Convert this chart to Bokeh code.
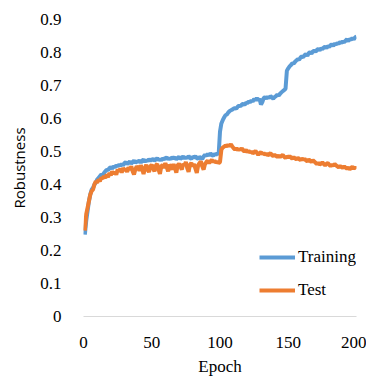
from bokeh.plotting import figure
from bokeh.embed import file_html
from bokeh.resources import INLINE
from bokeh.models import FixedTicker, NumeralTickFormatter, Legend, LegendItem, Range1d

epochs = list(range(1, 201))

training = [
    0.248, 0.29, 0.32, 0.35, 0.37, 0.385, 0.39, 0.40, 0.405, 0.415,
    0.42, 0.425, 0.43, 0.428, 0.435, 0.44, 0.445, 0.443, 0.45, 0.452,
    0.448, 0.455, 0.452, 0.458, 0.455, 0.46, 0.457, 0.462, 0.458, 0.465,
    0.468, 0.462, 0.466, 0.47, 0.463, 0.468, 0.472, 0.466, 0.47, 0.468,
    0.474, 0.466, 0.472, 0.476, 0.469, 0.474, 0.471, 0.477, 0.472, 0.475,
    0.478, 0.472, 0.476, 0.48, 0.474, 0.477, 0.473, 0.479, 0.476, 0.48,
    0.482, 0.476, 0.48, 0.477, 0.483, 0.479, 0.482, 0.476, 0.48, 0.484,
    0.478, 0.481, 0.485, 0.479, 0.483, 0.48, 0.486, 0.481, 0.478, 0.484,
    0.482, 0.486, 0.48, 0.478, 0.483, 0.481, 0.477, 0.485, 0.49, 0.487,
    0.492, 0.488, 0.494, 0.49, 0.487, 0.493, 0.489, 0.495, 0.49, 0.56,
    0.585, 0.595, 0.603, 0.61, 0.612, 0.618, 0.622, 0.625, 0.627, 0.63,
    0.632, 0.63, 0.636, 0.639, 0.637, 0.642, 0.645, 0.641, 0.648, 0.646,
    0.652, 0.649, 0.655, 0.651, 0.659, 0.656, 0.662, 0.655, 0.66, 0.642,
    0.65, 0.662, 0.665, 0.66, 0.666, 0.662, 0.668, 0.664, 0.66, 0.665,
    0.668, 0.672, 0.669, 0.675, 0.679, 0.683, 0.686, 0.69, 0.745, 0.752,
    0.758, 0.762, 0.768, 0.766, 0.772, 0.776, 0.78, 0.778, 0.785, 0.788,
    0.786, 0.792, 0.795, 0.79, 0.798, 0.801, 0.797, 0.803, 0.806, 0.802,
    0.808, 0.811, 0.806, 0.813, 0.81, 0.815, 0.818, 0.813, 0.82, 0.817,
    0.822, 0.825, 0.82, 0.827, 0.824, 0.829, 0.826, 0.832, 0.829, 0.834,
    0.831, 0.836, 0.84, 0.834, 0.841, 0.838, 0.844, 0.84, 0.846, 0.848,
]

test = [
    0.26, 0.31, 0.33, 0.35, 0.37, 0.38, 0.385, 0.40, 0.41, 0.405,
    0.415, 0.41, 0.42, 0.418, 0.425, 0.42, 0.43, 0.422, 0.435, 0.428,
    0.44, 0.432, 0.438, 0.43, 0.445, 0.44, 0.448, 0.436, 0.45, 0.442,
    0.448, 0.438, 0.452, 0.445, 0.455, 0.44, 0.43, 0.446, 0.455, 0.45,
    0.442, 0.458, 0.448, 0.432, 0.45, 0.46, 0.445, 0.438, 0.455, 0.46,
    0.448, 0.44, 0.458, 0.462, 0.445, 0.432, 0.455, 0.46, 0.45, 0.465,
    0.452, 0.44, 0.46, 0.455, 0.445, 0.462, 0.45, 0.436, 0.458, 0.463,
    0.455, 0.445, 0.462, 0.458, 0.468, 0.45, 0.438, 0.46, 0.465, 0.455,
    0.462, 0.448, 0.435, 0.458, 0.465, 0.47, 0.455, 0.445, 0.462, 0.468,
    0.472, 0.465, 0.47, 0.475, 0.468, 0.472, 0.466, 0.47, 0.465, 0.468,
    0.505, 0.512, 0.515, 0.518, 0.516, 0.52, 0.517, 0.522, 0.515, 0.51,
    0.506, 0.51, 0.504, 0.508, 0.505, 0.51, 0.503, 0.5, 0.505, 0.498,
    0.502, 0.497, 0.5, 0.494, 0.498, 0.502, 0.496, 0.49, 0.495, 0.498,
    0.492, 0.496, 0.49, 0.494, 0.488, 0.492, 0.495, 0.489, 0.486, 0.49,
    0.487, 0.484, 0.488, 0.483, 0.487, 0.49, 0.484, 0.48, 0.485, 0.482,
    0.486, 0.482, 0.478, 0.483, 0.479, 0.476, 0.481, 0.477, 0.474, 0.479,
    0.475, 0.478, 0.473, 0.47, 0.476, 0.472, 0.468, 0.474, 0.47, 0.466,
    0.462, 0.466, 0.46, 0.463, 0.467, 0.462, 0.458, 0.463, 0.465, 0.46,
    0.456, 0.46, 0.457, 0.462, 0.458, 0.455, 0.452, 0.456, 0.453, 0.45,
    0.455, 0.451, 0.448, 0.452, 0.446, 0.45, 0.454, 0.448, 0.452, 0.447,
]

x_ticks = [0, 50, 100, 150, 200]
y_ticks = [0, 0.1, 0.2, 0.3, 0.4, 0.5, 0.6, 0.7, 0.8, 0.9]

p = figure(frame_width=273, frame_height=297, output_backend="svg", toolbar_location=None,
           x_range=Range1d(0, 200), y_range=Range1d(0, 0.9),
           min_border_left=83, min_border_right=10, min_border_top=19, min_border_bottom=0)
p.outline_line_color = None
p.background_fill_color = "white"
p.border_fill_color = "white"
p.xgrid.grid_line_color = None
p.ygrid.grid_line_color = None

r1 = p.line(epochs, training, line_color="#5B9BD5", line_width=4)
r2 = p.line(epochs, test, line_color="#ED7D31", line_width=4)

serif = "'Liberation Serif'"
p.xaxis.ticker = FixedTicker(ticks=x_ticks)
p.yaxis.ticker = FixedTicker(ticks=y_ticks)
p.yaxis.formatter = NumeralTickFormatter(format="0.[0]")
for ax in (p.xaxis[0], p.yaxis[0]):
    ax.major_tick_line_color = None
    ax.minor_tick_line_color = None
    ax.major_label_text_font = serif
    ax.major_label_text_font_size = "17px"
    ax.major_label_text_color = "#000000"
    ax.axis_label_text_font_style = "normal"
    ax.axis_label_text_color = "#000000"
p.xaxis.axis_line_color = "#d9d9d9"
p.xaxis.axis_line_width = 1
p.yaxis.axis_line_color = None
p.xaxis.major_label_standoff = 14
p.yaxis.major_label_standoff = 16
p.xaxis.axis_label = "Epoch"
p.xaxis.axis_label_text_font = serif
p.xaxis.axis_label_text_font_size = "17px"
p.xaxis.axis_label_standoff = 6
p.yaxis.axis_label = "Robustness"
p.yaxis.axis_label_text_font = "'Open Sans'"
p.yaxis.axis_label_text_font_size = "15px"
p.yaxis.axis_label_standoff = 8

legend = Legend(items=[LegendItem(label="Training", renderers=[r1]),
                       LegendItem(label="Test", renderers=[r2])],
                location=(176, 11), padding=0, margin=0, spacing=3,
                glyph_width=36, glyph_height=30, label_height=30,
                label_standoff=3, border_line_color=None,
                background_fill_alpha=0,
                label_text_font=serif, label_text_font_size="17px",
                label_text_color="#000000")
p.add_layout(legend)

open("out.html", "w").write(file_html(p, INLINE))
